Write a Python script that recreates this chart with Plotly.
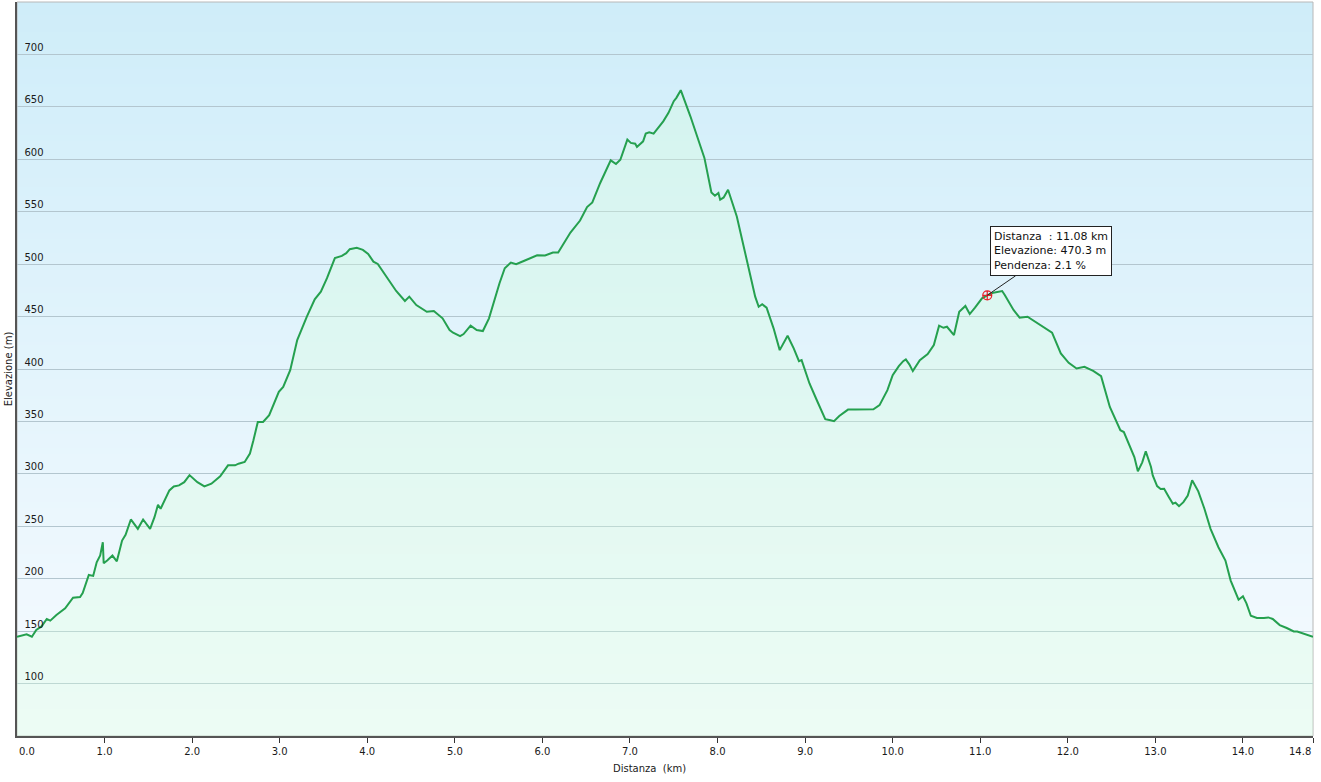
import base64
import struct
import zlib
import plotly.graph_objects as go

# ---- data ------------------------------------------------------------------
distance_km = [
    0.00, 0.11, 0.17, 0.22, 0.28, 0.34, 0.38, 0.45, 0.55, 0.64,
    0.72, 0.75, 0.82, 0.87, 0.91, 0.95, 0.98, 0.99, 1.03, 1.09,
    1.14, 1.20, 1.24, 1.30, 1.38, 1.44, 1.52, 1.57, 1.61, 1.64,
    1.74, 1.79, 1.85, 1.91, 1.97, 2.06, 2.14, 2.22, 2.32, 2.41,
    2.49, 2.53, 2.60, 2.66, 2.70, 2.75, 2.81, 2.88, 2.99, 3.04,
    3.12, 3.20, 3.31, 3.40, 3.47, 3.54, 3.63, 3.71, 3.76, 3.80,
    3.88, 3.95, 4.01, 4.07, 4.12, 4.22, 4.33, 4.43, 4.48, 4.56,
    4.68, 4.76, 4.86, 4.94, 4.98, 5.06, 5.10, 5.18, 5.25, 5.32,
    5.39, 5.51, 5.57, 5.64, 5.70, 5.78, 5.94, 6.03, 6.12, 6.18,
    6.32, 6.43, 6.51, 6.57, 6.66, 6.78, 6.84, 6.89, 6.97, 7.01,
    7.06, 7.08, 7.15, 7.18, 7.22, 7.27, 7.38, 7.44, 7.50, 7.53,
    7.58, 7.69, 7.85, 7.93, 7.97, 8.01, 8.03, 8.07, 8.12, 8.22,
    8.35, 8.43, 8.47, 8.51, 8.56, 8.64, 8.71, 8.80, 8.87, 8.93,
    8.96, 9.05, 9.13, 9.23, 9.29, 9.33, 9.39, 9.49, 9.57, 9.78,
    9.85, 9.94, 10.00, 10.07, 10.12, 10.15, 10.19, 10.23, 10.31, 10.40,
    10.47, 10.53, 10.58, 10.62, 10.70, 10.76, 10.83, 10.88, 10.94, 11.02,
    11.08, 11.15, 11.25, 11.28, 11.38, 11.45, 11.54, 11.63, 11.76, 11.82,
    11.92, 12.01, 12.10, 12.19, 12.29, 12.38, 12.48, 12.60, 12.64, 12.71,
    12.76, 12.80, 12.85, 12.89, 12.95, 12.97, 13.02, 13.06, 13.10, 13.15,
    13.20, 13.23, 13.27, 13.32, 13.37, 13.42, 13.46, 13.49, 13.56, 13.63,
    13.72, 13.80, 13.86, 13.95, 14.00, 14.04, 14.09, 14.16, 14.24, 14.29,
    14.34, 14.42, 14.50, 14.58, 14.62, 14.69, 14.73, 14.80,
]

elevation_m = [
    144.7, 146.9, 144.7, 151.1, 154.5, 161.6, 160.0, 165.4, 171.7, 181.9,
    182.6, 186.4, 203.6, 202.7, 215.7, 222.1, 234.8, 214.7, 217.3, 222.1,
    216.6, 236.4, 241.9, 256.5, 247.6, 256.5, 247.6, 258.7, 270.5, 266.7,
    284.2, 288.0, 289.0, 292.1, 298.8, 292.1, 288.0, 290.6, 297.6, 308.1,
    308.1, 309.7, 311.3, 319.3, 332.0, 349.5, 349.5, 355.9, 378.2, 382.9,
    398.9, 427.6, 449.9, 466.5, 473.8, 486.6, 505.7, 507.9, 510.5, 514.3,
    515.5, 513.6, 509.8, 502.4, 500.2, 488.1, 474.4, 464.9, 469.0, 461.0,
    454.6, 455.3, 448.3, 437.1, 434.6, 431.4, 433.3, 441.3, 437.1, 436.2,
    448.3, 481.8, 496.1, 501.5, 499.9, 502.8, 508.5, 508.2, 511.0, 511.0,
    530.1, 541.6, 554.4, 558.8, 577.4, 599.0, 595.5, 599.6, 618.8, 615.6,
    614.9, 611.8, 617.1, 624.5, 625.7, 624.5, 636.2, 644.3, 655.4, 658.6,
    665.9, 641.0, 601.3, 568.4, 565.2, 567.8, 561.4, 563.6, 571.0, 545.4,
    499.3, 469.0, 459.4, 461.7, 458.5, 438.8, 418.0, 431.7, 419.7, 407.5,
    408.5, 386.2, 370.9, 352.1, 351.1, 350.2, 355.2, 361.3, 361.3, 361.6,
    365.5, 379.8, 394.1, 402.7, 407.5, 409.1, 404.4, 398.0, 408.5, 414.2,
    422.8, 441.3, 439.3, 440.3, 432.4, 454.6, 460.1, 452.4, 458.5, 467.4,
    470.3, 472.8, 474.4, 470.6, 456.3, 448.9, 449.9, 445.1, 437.8, 434.6,
    414.9, 405.9, 400.5, 402.1, 398.2, 393.2, 363.8, 341.6, 339.9, 325.6,
    316.0, 302.4, 311.0, 321.5, 306.5, 298.5, 288.3, 285.6, 285.8, 278.5,
    271.5, 272.5, 269.2, 273.0, 279.4, 293.8, 287.4, 283.3, 266.7, 247.6,
    230.0, 217.3, 198.2, 180.0, 183.2, 176.5, 164.7, 162.5, 162.5, 163.1,
    161.6, 155.8, 153.0, 149.7, 149.7, 147.8, 147.2, 144.7,
]

x_tick_values = [0, 1, 2, 3, 4, 5, 6, 7, 8, 9, 10, 11, 12, 13, 14, 14.8]
x_tick_labels = ["0.0", "1.0", "2.0", "3.0", "4.0", "5.0", "6.0", "7.0",
                 "8.0", "9.0", "10.0", "11.0", "12.0", "13.0", "14.0", "14.8"]
y_tick_values = [100, 150, 200, 250, 300, 350, 400, 450, 500, 550, 600, 650, 700]

marker_distance = 11.08
marker_elevation = 470.3
marker_slope = 2.1

assert len(distance_km) == len(elevation_m)

FONT = "DejaVu Sans"
TXT = "#1a1a1a"


# ---- vertical gradient background as a tiny PNG ----------------------------
def gradient_png(top, bottom, h=256):
    rows = b""
    for i in range(h):
        t = i / (h - 1)
        c = bytes(int(round(top[k] * (1 - t) + bottom[k] * t)) for k in range(3))
        rows += b"\x00" + c + c
    def chunk(typ, data):
        return (struct.pack(">I", len(data)) + typ + data
                + struct.pack(">I", zlib.crc32(typ + data) & 0xFFFFFFFF))
    png = (b"\x89PNG\r\n\x1a\n"
           + chunk(b"IHDR", struct.pack(">IIBBBBB", 2, h, 8, 2, 0, 0, 0))
           + chunk(b"IDAT", zlib.compress(rows))
           + chunk(b"IEND", b""))
    return "data:image/png;base64," + base64.b64encode(png).decode()


bg_src = gradient_png((207, 237, 249), (247, 251, 255))

fig = go.Figure()

fig.add_trace(go.Scatter(
    x=distance_km, y=elevation_m,
    mode="lines",
    line=dict(color="#25a04f", width=2),
    fill="tozeroy",
    fillcolor="rgba(215,255,222,0.32)",
    hoverinfo="x+y",
    showlegend=False,
))

fig.add_trace(go.Scatter(
    x=[marker_distance], y=[marker_elevation],
    mode="markers",
    marker=dict(symbol="circle-cross-open", size=9, color="#e8202a",
                line=dict(width=1.2, color="#e8202a")),
    showlegend=False, hoverinfo="skip",
))

tick_text_visible = [t if 0 < v < 14.8 else "" for v, t in zip(x_tick_values, x_tick_labels)]

fig.update_layout(
    width=1321, height=782,
    margin=dict(l=17, r=8, t=2, b=46),
    paper_bgcolor="white",
    plot_bgcolor="#e4f4fb",
    font=dict(family=FONT, size=10, color=TXT),
    images=[dict(source=bg_src, xref="paper", yref="paper", x=0, y=1,
                 sizex=1, sizey=1, xanchor="left", yanchor="top",
                 sizing="stretch", layer="below")],
    shapes=[dict(type="rect", xref="paper", yref="paper", x0=0, y0=0, x1=1, y1=1,
                 line=dict(color="#b8b8b8", width=1), layer="below")],
    xaxis=dict(
        range=[0, 14.8],
        tickvals=x_tick_values, ticktext=tick_text_visible,
        ticks="outside", ticklen=5, tickwidth=1, tickcolor="#333",
        showline=True, linecolor="#555", linewidth=1.5,
        showgrid=False, zeroline=False,
        tickfont=dict(size=10, color=TXT),
        automargin=False,
    ),
    yaxis=dict(
        range=[50, 750],
        tickvals=y_tick_values,
        ticklabelposition="inside top",
        ticks="", showline=True, linecolor="#555", linewidth=1.5,
        showgrid=True, gridcolor="#b3c6cf", gridwidth=1.2,
        zeroline=False,
        tickfont=dict(size=10, color=TXT),
        ticklabelstandoff=6,
        title=dict(text="Elevazione (m)", standoff=10,
                   font=dict(size=10, color=TXT)),
        automargin=False,
    ),
    annotations=[
        dict(x=0, y=0, xref="x", yref="paper", text=x_tick_labels[0],
             showarrow=False, xanchor="left", yanchor="top", yshift=-8,
             font=dict(size=10, color=TXT)),
        dict(x=14.8, y=0, xref="x", yref="paper", text=x_tick_labels[-1],
             showarrow=False, xanchor="right", yanchor="top", yshift=-8,
             font=dict(size=10, color=TXT)),
        dict(x=0.488, y=0, xref="paper", yref="paper",
             text="Distanza\u00a0\u00a0(km)", showarrow=False,
             xanchor="center", yanchor="top", yshift=-25,
             font=dict(size=10, color=TXT)),
        dict(x=marker_distance, y=marker_elevation, xref="x", yref="y",
             text=(f"Distanza\u00a0\u00a0: {marker_distance:.2f} km<br>"
                   f"Elevazione: {marker_elevation:.1f} m<br>"
                   f"Pendenza: {marker_slope:.1f} %"),
             align="left", showarrow=True, arrowhead=0, arrowwidth=1,
             arrowcolor="#222", ax=64, ay=-44,
             bgcolor="white", bordercolor="#222", borderwidth=1, borderpad=3,
             font=dict(size=11, color="#111")),
    ],
)

fig.write_html("out.html", config={"displayModeBar": False},
               post_script="document.body.style.margin='0';document.body.style.overflow='hidden';")
